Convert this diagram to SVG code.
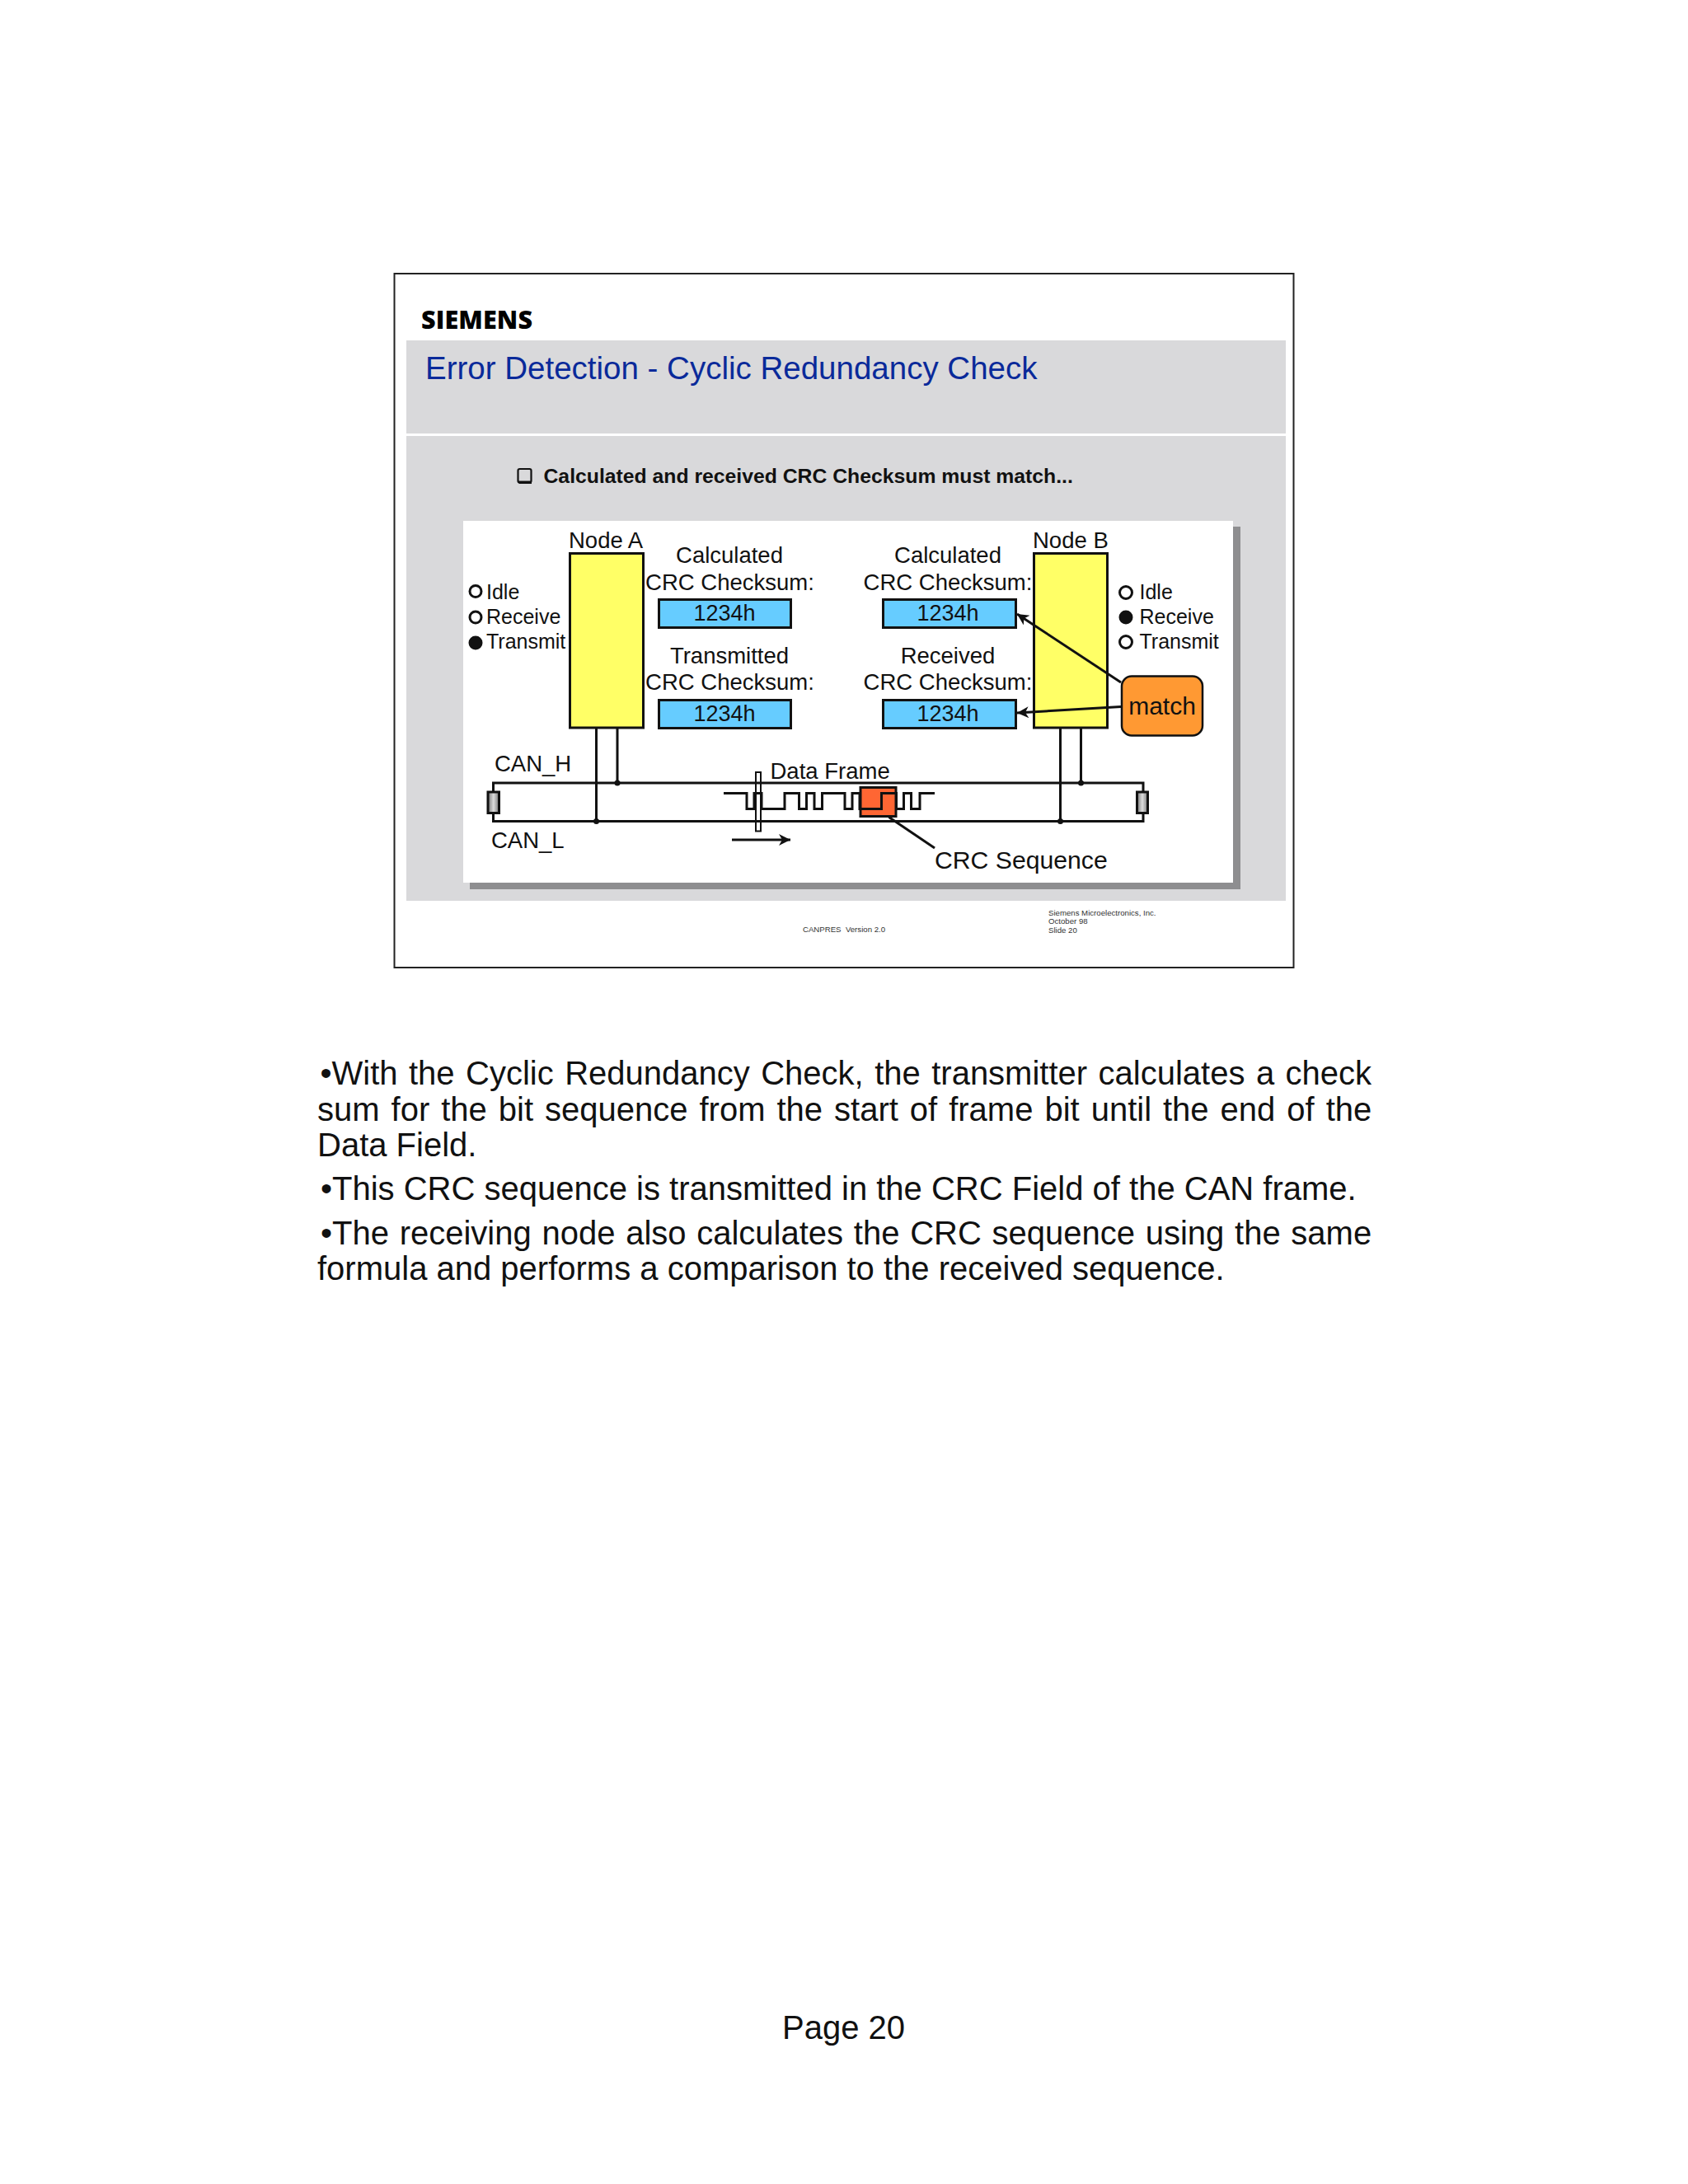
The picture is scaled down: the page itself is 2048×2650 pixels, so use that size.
<svg xmlns="http://www.w3.org/2000/svg" width="2048" height="2650" viewBox="0 0 2048 2650">
<style>
text{font-family:"Liberation Sans",Arial,sans-serif;fill:#111;white-space:pre}
.l{font-size:27.500px}
.n{font-size:27px}
.c{text-anchor:middle}
.r{font-size:25px}
.b{font-size:40px}
.f{font-size:9.650px;fill:#333}
.box{stroke:#111;stroke-width:3}
.w{fill:none;stroke:#111;stroke-width:3}
</style>
<defs>
<marker id="af" markerWidth="16" markerHeight="14" refX="15" refY="7" orient="auto" markerUnits="userSpaceOnUse"><path d="M1 0L15 7L1 14L5 7Z" fill="#111"/></marker>
<linearGradient id="term" x1="0" y1="0" x2="1" y2="0"><stop offset="0" stop-color="#777"/><stop offset=".5" stop-color="#ddd"/><stop offset="1" stop-color="#777"/></linearGradient>
</defs>
<rect width="2048" height="2650" fill="#fff"/>
<g id="slide">
<rect x="478.500" y="332" width="1091" height="842" fill="#fff" stroke="#222" stroke-width="2"/>
<text x="511" y="398.500" textLength="135" style="font-family:'Open Sans',sans-serif;font-weight:800;font-size:30.500px;fill:#000">SIEMENS</text>
<rect x="493" y="413" width="1067" height="113" fill="#d9d9db"/>
<rect x="493" y="529" width="1067" height="564" fill="#d9d9db"/>
<text x="516" y="460" style="font-size:38.500px;fill:#0a2a9a">Error Detection - Cyclic Redundancy Check</text>
<rect x="628.500" y="569" width="16" height="16.500" rx="2" fill="none" stroke="#111" stroke-width="2.200"/>
<path d="M628 583.500H645V587H630Z" fill="#111"/>
<text x="659.500" y="586" style="font-size:24.750px;font-weight:700">Calculated and received CRC Checksum must match...</text>
<rect x="570" y="639" width="935" height="440" fill="#8e8e90"/>
<rect x="562" y="632" width="934" height="439" fill="#fff"/>
<text class="f" x="974" y="1130.500">CANPRES  Version 2.0</text>
<text class="f" x="1272" y="1110.500">Siemens Microelectronics, Inc.</text>
<text class="f" x="1272" y="1121">October 98</text>
<text class="f" x="1272" y="1131.500">Slide 20</text>
</g>
<g id="node-a">
<rect class="box" x="691.500" y="671.500" width="89" height="211.500" fill="#ffff66"/>
<text class="l" x="690" y="664.500">Node A</text>
</g>
<g id="node-b">
<rect class="box" x="1254.500" y="671.500" width="89" height="211.500" fill="#ffff66"/>
<text class="l" x="1253" y="664.500">Node B</text>
</g>
<g id="terminator-left"><rect class="box" x="592" y="961" width="13.500" height="25.500" fill="url(#term)"/></g>
<g id="terminator-right"><rect class="box" x="1379.500" y="961" width="13" height="25.500" fill="url(#term)"/></g>
<g id="crc-field"><rect class="box" x="1044" y="955.500" width="43" height="35" fill="#ff6633"/></g>
<g id="connectors">
<path class="w" d="M598.500 960V950H1387V960M598.500 987V996.500H1387V987"/>
<path class="w" d="M723.500 883V996.500M749 883V950M1286.500 883V996.500M1311.500 883V950"/>
<circle cx="723.500" cy="996.500" r="3.500" fill="#111"/>
<circle cx="749" cy="950" r="3.500" fill="#111"/>
<circle cx="1286.500" cy="996.500" r="3.500" fill="#111"/>
<circle cx="1311.500" cy="950" r="3.500" fill="#111"/>
<line class="w" x1="1360" y1="828" x2="1234" y2="745" marker-end="url(#af)"/>
<line class="w" x1="1360" y1="857.500" x2="1234" y2="865" marker-end="url(#af)"/>
<line class="w" x1="1078.500" y1="991.500" x2="1134" y2="1029"/>
<line class="w" x1="888" y1="1019" x2="959" y2="1019" marker-end="url(#af)"/>
</g>
<g id="data-frame">
<rect x="917" y="937" width="6" height="71.500" fill="none" stroke="#111" stroke-width="2"/>
<path class="w" d="M878 962.500H906V981.500H915V962.500H924V981.500H952V962.500H969.500V981.500H978.500V962.500H988V981.500H997.500V962.500H1025V981.500H1034V962.500H1043V981.500H1069.500V962.500H1087.500V981.500H1096.500V962.500H1105.500V981.500H1116V962.500H1134"/>
<text class="l" x="934.500" y="944.500">Data Frame</text>
</g>
<g id="status-a">
<circle cx="577" cy="717.500" r="7" fill="none" stroke="#111" stroke-width="3"/>
<circle cx="577" cy="749" r="7" fill="none" stroke="#111" stroke-width="3"/>
<circle cx="577" cy="780" r="8.500" fill="#111"/>
<text class="r" x="590" y="727">Idle</text>
<text class="r" x="590" y="756.500">Receive</text>
<text class="r" x="590" y="787">Transmit</text>
</g>
<g id="status-b">
<circle cx="1366" cy="719" r="7.500" fill="none" stroke="#111" stroke-width="3"/>
<circle cx="1366" cy="749" r="8.500" fill="#111"/>
<circle cx="1366" cy="779" r="7.500" fill="none" stroke="#111" stroke-width="3"/>
<text class="r" x="1382.500" y="727">Idle</text>
<text class="r" x="1382.500" y="756.500">Receive</text>
<text class="r" x="1382.500" y="787">Transmit</text>
</g>
<g id="checksums-a">
<text class="l c" x="885" y="683">Calculated</text>
<text class="l c" x="885.500" y="716">CRC Checksum:</text>
<rect class="box" x="799.500" y="727.500" width="160" height="34" fill="#66ccff"/>
<text class="n c" x="879" y="753">1234h</text>
<text class="l c" x="885" y="804.500">Transmitted</text>
<text class="l c" x="885.500" y="837">CRC Checksum:</text>
<rect class="box" x="799.500" y="849.500" width="160" height="34" fill="#66ccff"/>
<text class="n c" x="879" y="875">1234h</text>
</g>
<g id="checksums-b">
<text class="l c" x="1150" y="683">Calculated</text>
<text class="l c" x="1150" y="716">CRC Checksum:</text>
<rect class="box" x="1071.500" y="727.500" width="161" height="34" fill="#66ccff"/>
<text class="n c" x="1150" y="753">1234h</text>
<text class="l c" x="1150" y="804.500">Received</text>
<text class="l c" x="1150" y="837">CRC Checksum:</text>
<rect class="box" x="1071.500" y="849.500" width="161" height="34" fill="#66ccff"/>
<text class="n c" x="1150" y="875">1234h</text>
</g>
<g id="match">
<rect x="1361" y="820.500" width="98" height="72" rx="12" fill="#ff9933" stroke="#111" stroke-width="2.500"/>
<text class="c" x="1410" y="867" style="font-size:30px">match</text>
</g>
<text style="font-size:30.200px" x="1134" y="1054">CRC Sequence</text>
<text class="l" x="600" y="935.500">CAN_H</text>
<text class="l" x="596" y="1029">CAN_L</text>
<g id="notes">
<text class="b" x="388.500" y="1316" word-spacing="2.340">•With the Cyclic Redundancy Check, the transmitter calculates a check</text>
<text class="b" x="385" y="1359.500" word-spacing="2.870">sum for the bit sequence from the start of frame bit until the end of the</text>
<text class="b" x="385" y="1403">Data Field.</text>
<text class="b" x="389" y="1456">•This CRC sequence is transmitted in the CRC Field of the CAN frame.</text>
<text class="b" x="389" y="1509.500" word-spacing="1.600">•The receiving node also calculates the CRC sequence using the same</text>
<text class="b" x="385" y="1553">formula and performs a comparison to the received sequence.</text>
<text class="b" x="949" y="2474">Page 20</text>
</g>
</svg>
